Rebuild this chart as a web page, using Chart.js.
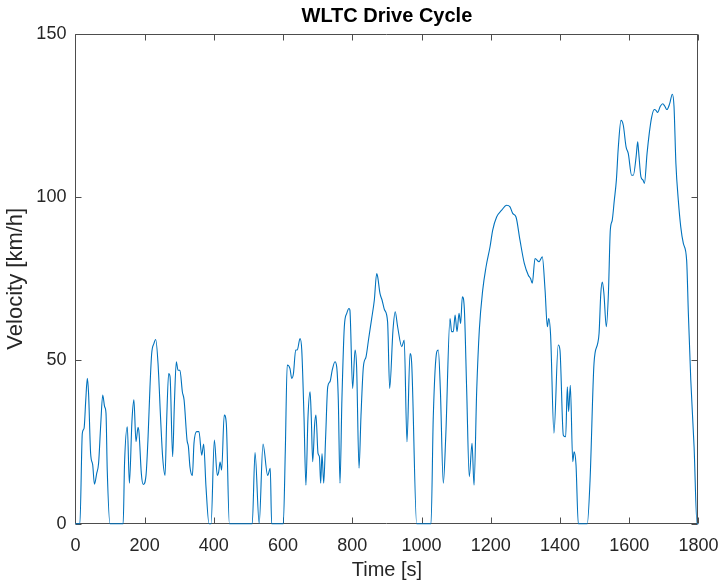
<!DOCTYPE html>
<html>
<head>
<meta charset="utf-8">
<title>WLTC Drive Cycle</title>
<script src="https://cdn.jsdelivr.net/npm/chart.js@4/dist/chart.umd.min.js"></script>
<style>
  html, body { margin: 0; padding: 0; background: #fff; }
  canvas { display: block; }
</style>
</head>
<body>
<canvas id="cycle" width="721" height="585"></canvas>
<script>
// WLTC speed trace (time in s, speed in km/h)
const timeS = [
  0, 11, 13, 20, 25, 30, 34.5, 38, 44, 50, 55, 61.5, 67, 73, 79, 84.5, 88.4, 92, 100,
  138, 142, 150, 156, 163.5, 169, 175, 181, 184, 190.5, 196, 204, 210, 215.5, 220.4,
  227, 232, 238.7, 246.4, 252, 259, 263.7, 269.5, 273.5, 281, 286, 291.6, 296.5, 302,
  309, 314, 322.5, 326.5, 331, 338, 342.6, 350.4, 357, 365, 370.6, 377.3, 386, 392,
  401.4, 410, 414, 418, 422.5, 430, 436, 444.8, 511, 519, 531, 542, 555.5, 563, 567,
  600.7, 606.5, 612, 620, 625, 630, 636.5, 641, 649, 654, 660.5, 666, 672, 678, 681.5,
  685.6, 691.4, 695, 701, 705, 708.7, 712.5, 717.4, 723, 729, 735.6, 742, 750, 755,
  759.6, 764.5, 770, 777, 784, 790.5, 793, 801, 808, 812.5, 819.5, 825, 832, 839.7,
  847.4, 856, 863.7, 870.5, 873.4, 880, 886, 893, 902, 908, 917.6, 924, 931, 943, 950,
  958, 966.8, 971.6, 986, 1027.5, 1034, 1044, 1048.5, 1054.5, 1063, 1070, 1082.4, 1087,
  1092, 1097, 1102.6, 1108.4, 1113, 1118, 1123.7, 1130.5, 1138, 1146, 1151.7, 1159.5,
  1167, 1176.8, 1186.4, 1198, 1205.7, 1217, 1231.7, 1246, 1255.7, 1263.5, 1273, 1284.5,
  1297, 1308.6, 1315, 1320, 1328, 1339.5, 1349, 1357, 1363.6, 1367.5, 1373, 1382.6,
  1395, 1400, 1409.7, 1416.5, 1421.3, 1425, 1430, 1437, 1441, 1446.4, 1453, 1479, 1487,
  1498.4, 1509, 1513, 1518, 1522.5, 1527, 1534, 1540, 1545.5, 1551, 1557, 1563, 1568.7,
  1576.4, 1583, 1591, 1597.5, 1607, 1612, 1620, 1624.6, 1627, 1634, 1640, 1644, 1651.6,
  1658, 1665, 1672.6, 1678, 1682, 1690, 1697, 1703, 1709, 1717, 1724.6, 1729.5, 1735,
  1742, 1749, 1756.5, 1766, 1771, 1778, 1787.5, 1796, 1800
];
const speedKmh = [
  0, 0, 0, 27.7, 29.2, 38, 44.5, 40, 21.5, 18, 12.1, 15.4, 18.5, 30, 39.4, 35.8, 33.8, 16.4, 0,
  0, 18.5, 29.7, 12.4, 31.7, 37.9, 25.1, 29.5, 27.7, 15.4, 12, 14.8, 26.6, 41.9, 52.1,
  55.2, 56.4, 49.1, 31.7, 20.5, 14.8, 31.7, 46, 45, 20.5, 36.8, 49.6, 47, 47,
  40.4, 37.9, 25.6, 23.6, 17.4, 14.8, 24.6, 28.2, 28.2, 21, 24.4, 11.3, 0, 0,
  25.6, 14.8, 15.9, 18.9, 16.4, 33.3, 30.7, 0, 0, 21.8, 0, 24.4, 14.8, 17, 0,
  0, 22.5, 48.6, 47.5, 44.5, 46, 53.2, 53.2, 56.7, 53.2, 32.7, 11.8, 32.7, 40.4, 32.7,
  19, 30.7, 33.3, 21.5, 20.5, 12.4, 21.5, 12.4, 26.6, 41.9, 43.5, 47, 49.6, 48,
  37.9, 12.4, 37.9, 60.3, 64.4, 65.9, 65.5, 41.4, 53.2, 48, 17, 32.7, 48, 51.1,
  56.7, 62.8, 68.5, 76.6, 75.6, 70.5, 68.5, 65.5, 61.8, 41.4, 59.3, 64.9, 60.3, 54.2, 56.2,
  25.1, 52.1, 49.1, 0, 0, 32.7, 52.6, 53.2, 40.9, 12.4, 26.6, 62.8, 58.8,
  58.8, 63.9, 58.8, 64.4, 61.3, 69.5, 65.9, 40.9, 14.4, 24.6, 11.8, 40.9,
  59.3, 71.5, 78.6, 84.8, 89.9, 93.9, 96, 97.5, 97, 95, 93.9, 86.8,
  79.7, 76.1, 75.1, 73.6, 81.2, 80.2, 81.7, 71.5, 60.3, 62.8, 57.7, 27.7,
  54.7, 53.2, 27.1, 26.6, 41.9, 34.3, 42.4, 19, 22, 18, 0, 0, 13.4,
  49.1, 55.2, 58.3, 70.5, 74, 70.5, 60.3, 70.5, 89.9, 92.9, 99, 105.2, 115.4,
  123.5, 122, 115.4, 113.3, 106.7, 106.7, 112.3, 116.9, 114.3, 106.2, 105.2, 104.2, 113.3,
  119.5, 124.5, 126.8, 126.5, 125.9, 127.8, 128.6, 127.8, 126.8, 128.6, 131.5, 127.8, 110.3,
  99, 90.9, 85.8, 80.7, 64.4, 44, 23.6, 0, 0
];
const xTicks = [0, 200, 400, 600, 800, 1000, 1200, 1400, 1600, 1800];
const yTicks = [0, 50, 100, 150];

const LINE_COLOR = "#0072BD";
const AXIS_COLOR = "#262626";
const FONT = "'Liberation Sans', Arial, Helvetica, sans-serif";
const TICK_LEN = 6;

// box round the axes with inward tick marks on all four sides
const axesBox = {
  id: "axesBox",
  beforeDatasetsDraw(chart) {
    const { ctx, chartArea: a, scales: { x, y } } = chart;
    const l = Math.round(a.left) + 0.5, r = Math.round(a.right) - 0.5;
    const t = Math.round(a.top) + 0.5, b = Math.round(a.bottom) - 0.5;
    ctx.save();
    ctx.strokeStyle = "#4d4d4d";
    ctx.lineWidth = 1;
    ctx.beginPath();
    ctx.rect(l, t, r - l, b - t);
    for (const v of xTicks) {
      const px = Math.round(x.getPixelForValue(v)) + 0.5;
      ctx.moveTo(px, b); ctx.lineTo(px, b - TICK_LEN);
      ctx.moveTo(px, t); ctx.lineTo(px, t + TICK_LEN);
    }
    for (const v of yTicks) {
      const py = Math.round(y.getPixelForValue(v)) + 0.5;
      ctx.moveTo(l, py); ctx.lineTo(l + TICK_LEN, py);
      ctx.moveTo(r, py); ctx.lineTo(r - TICK_LEN, py);
    }
    ctx.stroke();
    ctx.restore();
  }
};

// fixed axis sizes; end labels may hang over the plot edges
function fitX(scale) {
  scale.height = 61.3;
  scale.paddingLeft = 0;
  scale.paddingRight = 0;
}
function fitY(scale) {
  scale.width = 75.4;
  scale.paddingTop = 0;
  scale.paddingBottom = 0;
}

const points = timeS.map((t, i) => ({ x: t, y: speedKmh[i] }));

new Chart(document.getElementById("cycle"), {
  type: "line",
  data: {
    datasets: [{
      data: points,
      borderColor: LINE_COLOR,
      borderWidth: 1.1,
      pointRadius: 0,
      cubicInterpolationMode: "monotone",
      fill: false,
      clip: 3
    }]
  },
  options: {
    responsive: false,
    animation: false,
    devicePixelRatio: 1,
    layout: { padding: { top: 0, right: 22.6, bottom: 0, left: 0 } },
    plugins: {
      legend: { display: false },
      tooltip: { enabled: false },
      title: {
        display: true,
        text: "WLTC Drive Cycle",
        fullSize: false,
        color: "#000",
        font: { family: FONT, size: 20, weight: "bold" },
        padding: { top: 4.7, bottom: 5.1 }
      }
    },
    scales: {
      x: {
        type: "linear",
        min: 0,
        max: 1800,
        afterBuildTicks(scale) { scale.ticks = xTicks.map(v => ({ value: v })); },
        afterFit: fitX,
        grid: { display: false, drawTicks: false },
        border: { display: false },
        ticks: {
          color: AXIS_COLOR, padding: 11.5, maxRotation: 0,
          font: { family: FONT, size: 18 },
          callback: v => String(v)
        },
        title: {
          display: true,
          text: "Time [s]",
          color: AXIS_COLOR,
          font: { family: FONT, size: 20 },
          padding: { top: 0, bottom: 3 }
        }
      },
      y: {
        type: "linear",
        min: 0,
        max: 150,
        afterBuildTicks(scale) { scale.ticks = yTicks.map(v => ({ value: v })); },
        afterFit: fitY,
        grid: { display: false, drawTicks: false },
        border: { display: false },
        ticks: {
          color: AXIS_COLOR, padding: 9,
          font: { family: FONT, size: 18 },
          callback: v => String(v)
        },
        title: {
          display: true,
          text: "Velocity [km/h]",
          color: AXIS_COLOR,
          font: { family: FONT, size: 22 },
          padding: { top: 3, bottom: 0 }
        }
      }
    }
  },
  plugins: [axesBox]
});
</script>
</body>
</html>
